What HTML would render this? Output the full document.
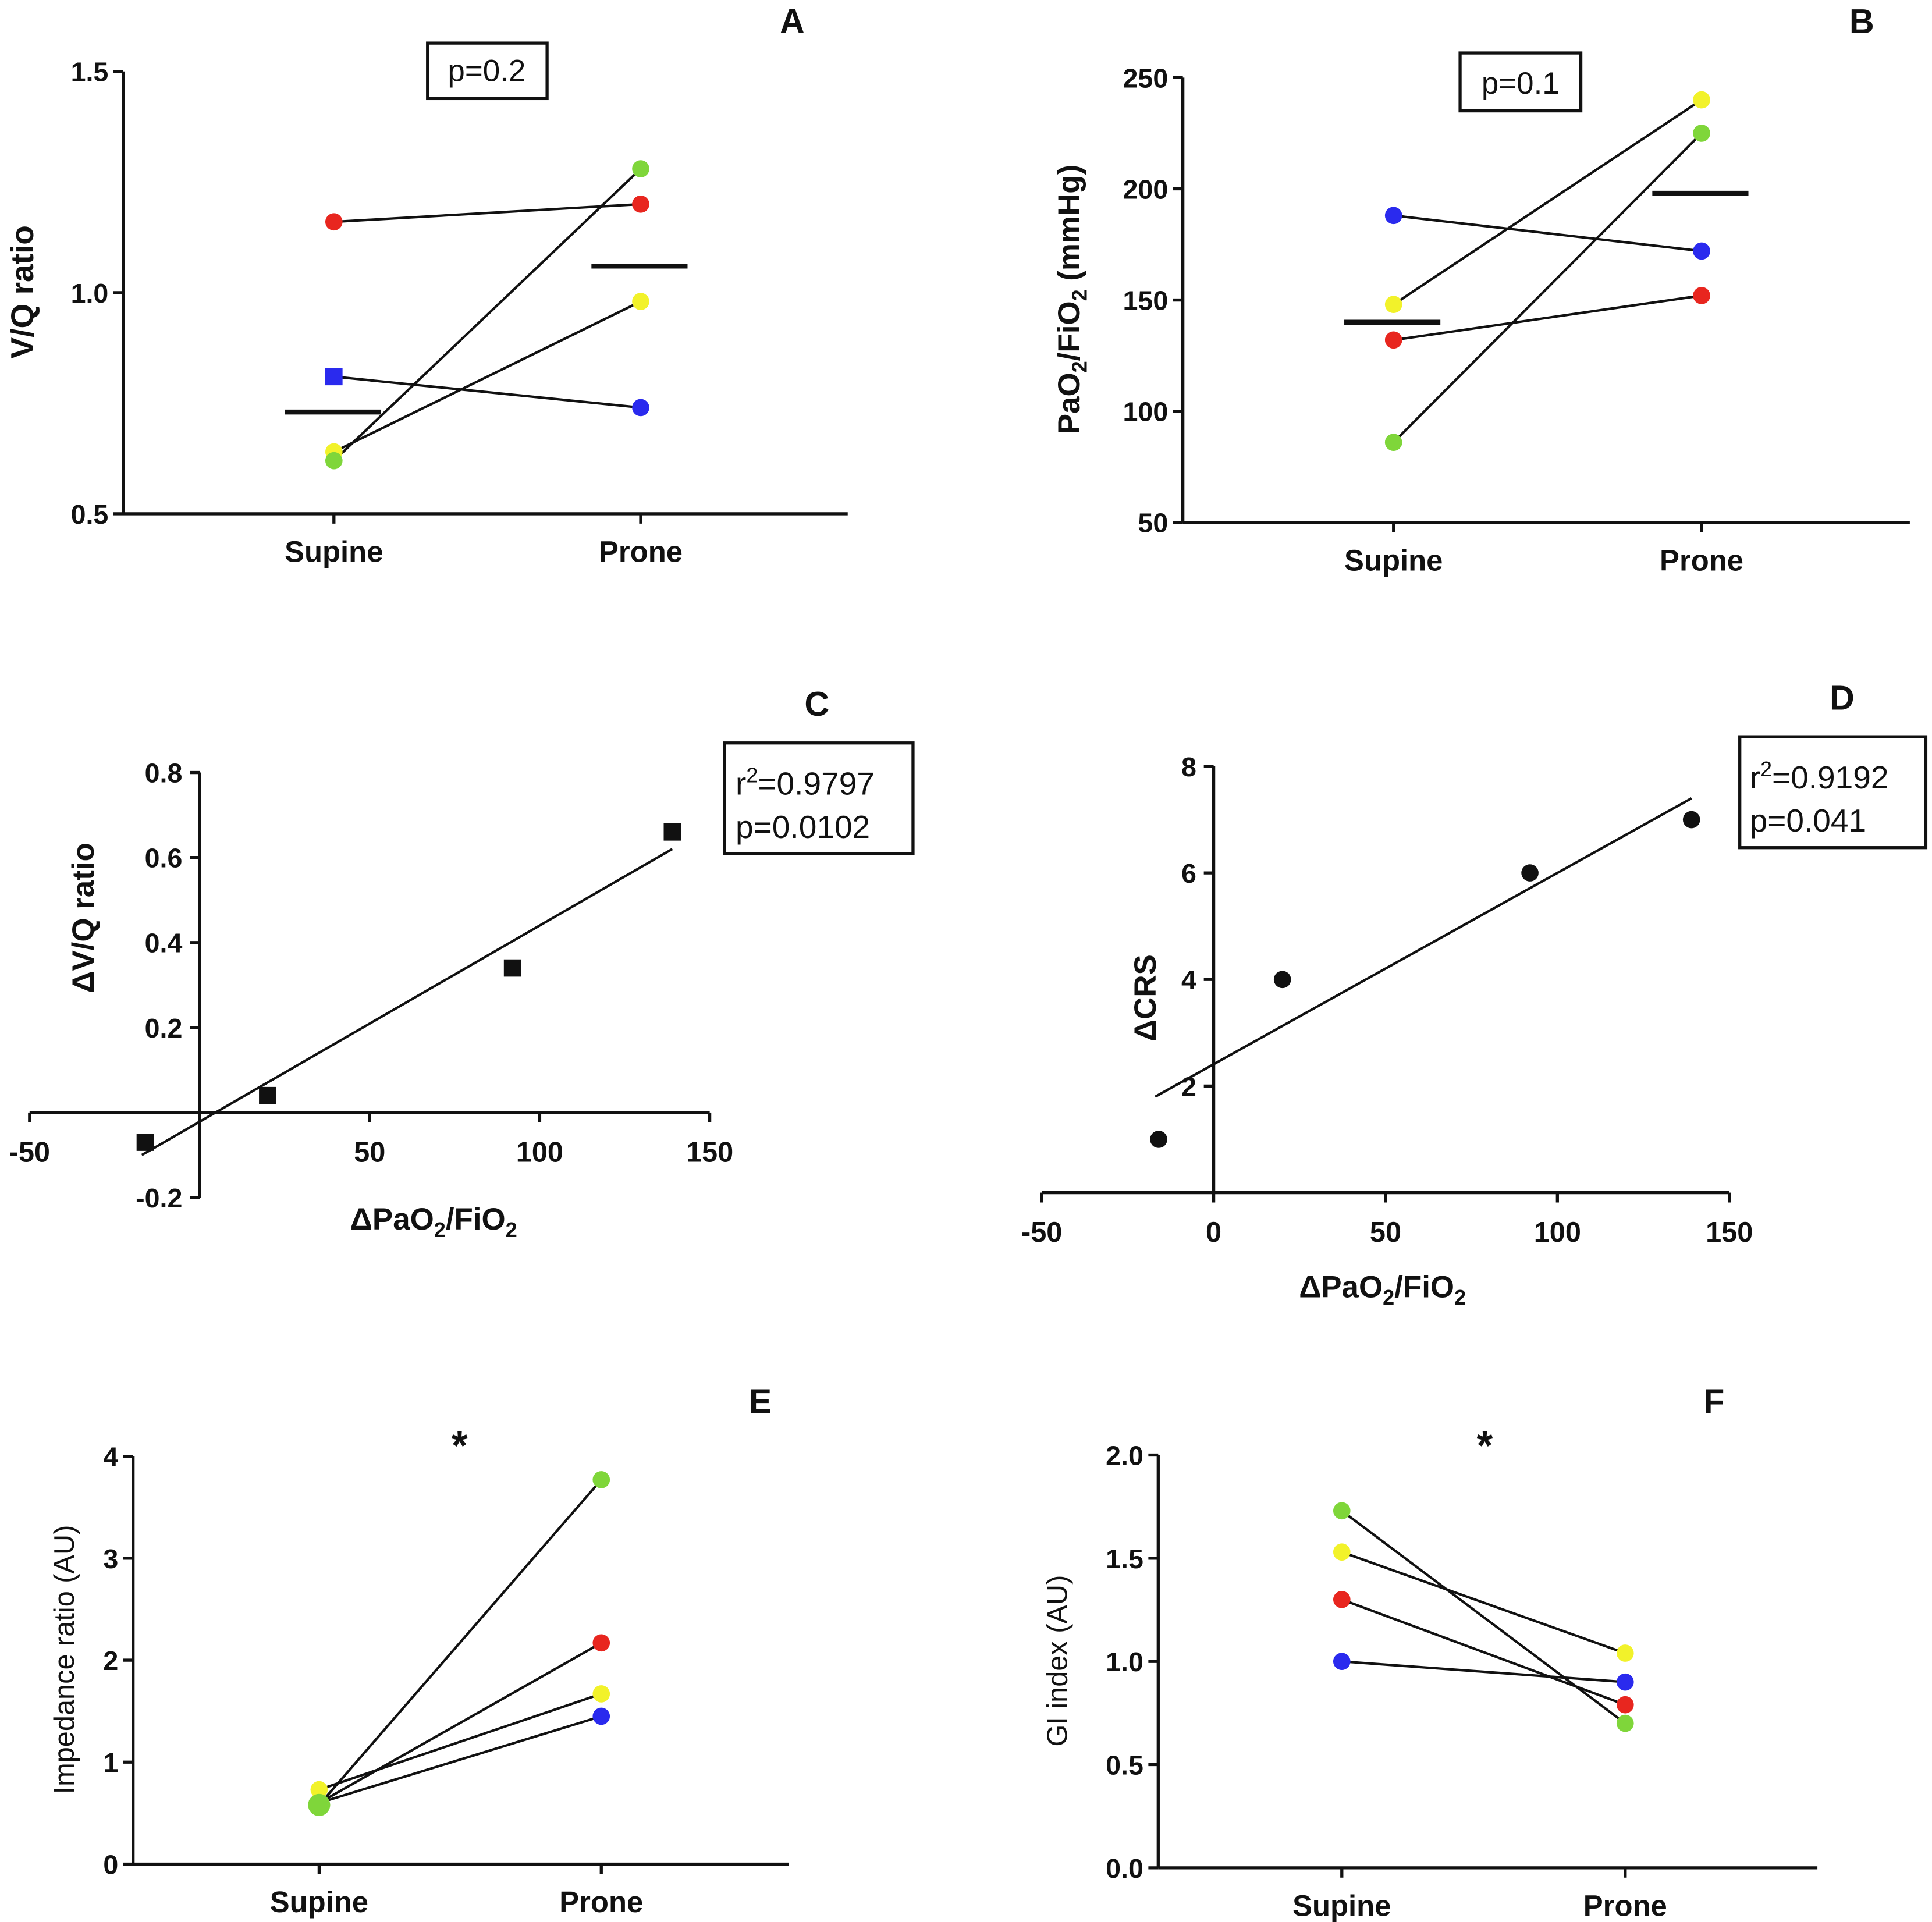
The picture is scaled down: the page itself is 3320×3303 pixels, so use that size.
<!DOCTYPE html>
<html><head><meta charset="utf-8"><style>
html,body{margin:0;padding:0;background:#fff}
svg{display:block}
text{font-family:"Liberation Sans",Arial,sans-serif;fill:#111}
</style></head><body>
<svg id="fig" width="3320" height="3303" viewBox="0 0 1568 1560" preserveAspectRatio="none" xmlns="http://www.w3.org/2000/svg"></svg>
<script>
// Panel A data
const aCats=["Supine","Prone"];
const aRed=[1.16,1.20], aBlue=[0.81,0.74], aYellow=[0.64,0.98], aGreen=[0.62,1.28];
const aMeans=[0.73,1.06];
const aTicks=[0.5,1.0,1.5];
// Panel B data
const bRed=[132,152], bBlue=[188,172], bYellow=[148,240], bGreen=[86,225];
const bMeans=[140,198];
const bTicks=[50,100,150,200,250];
// Panel C data
const cX=[-16,20,92,139], cY=[-0.07,0.04,0.34,0.66];
const cLineX=[-17,139], cLineY=[-0.1,0.62];
const cXTicks=[-50,50,100,150], cYTicks=[-0.2,0.2,0.4,0.6,0.8];
// Panel D data
const dX=[-16,20,92,139], dY=[1,4,6,7];
const dLineX=[-17,139], dLineY=[1.8,7.4];
const dXTicks=[-50,0,50,100,150], dYTicks=[2,4,6,8];
// Panel E data
const eRed=[0.6,2.17], eBlue=[0.6,1.45], eYellow=[0.73,1.67], eGreen=[0.58,3.77];
const eTicks=[0,1,2,3,4];
// Panel F data
const fRed=[1.3,0.79], fBlue=[1.0,0.9], fYellow=[1.53,1.04], fGreen=[1.73,0.7];
const fTicks=[0.0,0.5,1.0,1.5,2.0];

const C={red:"#e8261f",blue:"#2a2aee",yellow:"#f2f22a",green:"#7fd63a"};
const svg=document.getElementById('fig');
const NS="http://www.w3.org/2000/svg";
function mk(tag,attrs,parent,txt){const e=document.createElementNS(NS,tag);for(const k in attrs)e.setAttribute(k,attrs[k]);if(txt!==undefined)e.textContent=txt;(parent||svg).appendChild(e);return e;}
function lin(d0,d1,p0,p1){return v=>p0+(v-d0)*(p1-p0)/(d1-d0);}
function group(name){const g=mk('g',{});return g;}
function line(g,x1,y1,x2,y2,name,w){const l=mk('line',{x1,y1,x2,y2,stroke:'#111','stroke-width':w||2.5},g);return l;}
function txt(g,x,y,s,name,size,anchor,extra){const t=mk('text',Object.assign({x,y,'font-size':size||22,'text-anchor':anchor||'middle','font-weight':'bold'},extra||{}),g,s);return t;}
function dot(g,x,y,col,name,r){const c=mk('circle',{cx:x,cy:y,r:r||7,fill:col},g);return c;}
function box(g,x,y,w,h,lines,name){const b=mk('rect',{x,y,width:w,height:h,fill:'#fff',stroke:'#111','stroke-width':2.5},g);return b;}

function pairedPanel(o){
  const g=group(o.name);
  const ys=lin(o.y0,o.y1,o.py0,o.py1);
  line(g,o.ax,o.py1,o.ax,o.py0,'y-axis');
  line(g,o.ax,o.py0,o.ax2,o.py0,'x-axis');
  o.ticks.forEach(t=>{line(g,o.ax-8,ys(t),o.ax,ys(t),'y-tick');txt(g,o.ax-12,ys(t)+8,t.toFixed(o.dec),'y-tick-label',22,'end');});
  o.cx.forEach((x,i)=>{line(g,x,o.py0,x,o.py0+8,'x-tick');txt(g,x,o.py0+39,aCats[i],'x-tick-label',24);});
  const series=[['red',o.red],['blue',o.blue],['yellow',o.yellow],['green',o.green]];
  series.forEach(([c,v])=>line(g,o.cx[0],ys(v[0]),o.cx[1],ys(v[1]),'subject-line-'+c,2));
  series.forEach(([c,v])=>{v.forEach((val,i)=>{
    if(o.square&&c==='blue'&&i===0){const r=mk('rect',{x:o.cx[i]-7,y:ys(val)-7,width:14,height:14,fill:C[c]},g);}
    else dot(g,o.cx[i],ys(val),C[c],'point-'+c,(o.bigGreen&&c==='green'&&i===0)?9:7);
  });});
  if(o.means)o.means.forEach((m,i)=>line(g,o.cx[i]-40,ys(m),o.cx[i]+38,ys(m),'mean-bar',4));
  txt(g,o.lx,o.ly,o.ylabel,'y-axis-title',o.ls||25,'middle',{transform:`rotate(-90 ${o.lx} ${o.ly})`,'font-weight':o.lw||'bold'});
  return {g,ys};
}

// A
let A=pairedPanel({name:'panel-a',y0:0.5,y1:1.5,py0:417,py1:58,ax:100,ax2:688,cx:[271,520],ticks:aTicks,dec:1,red:aRed,blue:aBlue,yellow:aYellow,green:aGreen,means:aMeans,square:true,lx:27,ly:237,ylabel:'V/Q ratio',ls:26});
box(A.g,347,35,97,45,null,'p-value-box');txt(A.g,395,66,'p=0.2','p-value',25,'middle',{'font-weight':'normal'});
txt(A.g,643,27,'A','panel-label',28);
// B
let B=pairedPanel({name:'panel-b',y0:50,y1:250,py0:424,py1:63,ax:960,ax2:1550,cx:[1131,1381],ticks:bTicks,dec:0,red:bRed,blue:bBlue,yellow:bYellow,green:bGreen,means:bMeans,lx:875,ly:243,ylabel:''});
(function(){const lx=876,ly=243;const t=mk('text',{x:lx,y:ly,'font-size':25,'font-weight':'bold','text-anchor':'middle',transform:`rotate(-90 ${lx} ${ly})`},B.g);
t.innerHTML='PaO<tspan font-size="17" dy="6">2</tspan><tspan dy="-6">/FiO</tspan><tspan font-size="17" dy="6">2</tspan><tspan dy="-6"> (mmHg)</tspan>';})();
box(B.g,1185,43,98,47,null,'p-value-box');txt(B.g,1234,76,'p=0.1','p-value',25,'middle',{'font-weight':'normal'});
txt(B.g,1511,27,'B','panel-label',28);

function scatterPanel(o){
  const g=group(o.name);
  const xs=lin(o.x0,o.x1,o.px0,o.px1), ys=lin(o.y0,o.y1,o.py0,o.py1);
  line(g,xs(0),ys(o.yMin),xs(0),ys(o.yMax),'y-axis');
  line(g,xs(o.xMin),o.xAxisY,xs(o.xMax),o.xAxisY,'x-axis');
  o.yt.forEach(t=>{line(g,xs(0)-8,ys(t),xs(0),ys(t),'y-tick');txt(g,xs(0)-14,ys(t)+8,String(t),'y-tick-label',22,'end');});
  o.xt.forEach(t=>{line(g,xs(t),o.xAxisY,xs(t),o.xAxisY+8,'x-tick');txt(g,xs(t),o.xAxisY+40,String(t),'x-tick-label',23);});
  line(g,xs(o.lx[0]),ys(o.ly[0]),xs(o.lx[1]),ys(o.ly[1]),'regression-line',2);
  o.X.forEach((x,i)=>{
    if(o.square){const r=mk('rect',{x:xs(x)-7,y:ys(o.Y[i])-7,width:14,height:14,fill:'#111'},g);}
    else dot(g,xs(x),ys(o.Y[i]),'#111','data-point',7);
  });
  return {g,xs,ys};
}
// C
let Cp=scatterPanel({name:'panel-c',x0:0,x1:100,px0:162,px1:438,y0:0,y1:0.8,py0:903,py1:627,yMin:-0.2,yMax:0.8,xMin:-50,xMax:150,xAxisY:903,xt:cXTicks,yt:cYTicks,X:cX,Y:cY,lx:cLineX,ly:cLineY,square:true});
box(Cp.g,588,603,153,90,null,'stats-box');
txt(Cp.g,597,645,'','stats-r2',26,'start',{'font-weight':'normal'}).innerHTML='r<tspan font-size="17" dy="-10">2</tspan><tspan dy="10">=0.9797</tspan>';
txt(Cp.g,597,680,'p=0.0102','stats-p',26,'start',{'font-weight':'normal'});
txt(Cp.g,663,581,'C','panel-label',28);
txt(Cp.g,352,998,'','x-axis-title',25).innerHTML='ΔPaO<tspan font-size="17" dy="6">2</tspan><tspan dy="-6">/FiO</tspan><tspan font-size="17" dy="6">2</tspan>';
txt(Cp.g,76,745,'ΔV/Q ratio','y-axis-title',25,'middle',{transform:'rotate(-90 76 745)'});
// D
let Dp=scatterPanel({name:'panel-d',x0:0,x1:100,px0:985,px1:1264,y0:0,y1:8,py0:968,py1:622,yMin:0,yMax:8,xMin:-50,xMax:150,xAxisY:968,xt:dXTicks,yt:dYTicks,X:dX,Y:dY,lx:dLineX,ly:dLineY});
box(Dp.g,1412,598,151,90,null,'stats-box');
txt(Dp.g,1420,640,'','stats-r2',26,'start',{'font-weight':'normal'}).innerHTML='r<tspan font-size="17" dy="-10">2</tspan><tspan dy="10">=0.9192</tspan>';
txt(Dp.g,1420,675,'p=0.041','stats-p',26,'start',{'font-weight':'normal'});
txt(Dp.g,1495,576,'D','panel-label',28);
txt(Dp.g,1122,1053,'','x-axis-title',25).innerHTML='ΔPaO<tspan font-size="17" dy="6">2</tspan><tspan dy="-6">/FiO</tspan><tspan font-size="17" dy="6">2</tspan>';
txt(Dp.g,938,810,'ΔCRS','y-axis-title',25,'middle',{transform:'rotate(-90 938 810)'});

// E
let E=pairedPanel({name:'panel-e',y0:0,y1:4,py0:1513,py1:1182,ax:108,ax2:640,cx:[259,488],ticks:eTicks,dec:0,red:eRed,blue:eBlue,yellow:eYellow,green:eGreen,bigGreen:true,lx:60,ly:1347,ylabel:'Impedance ratio (AU)',ls:23,lw:'normal'});
txt(E.g,373,1185,'*','significance-star',34);
txt(E.g,617,1147,'E','panel-label',28);
// F
let F=pairedPanel({name:'panel-f',y0:0,y1:2,py0:1516,py1:1181,ax:940,ax2:1475,cx:[1089,1319],ticks:fTicks,dec:1,red:fRed,blue:fBlue,yellow:fYellow,green:fGreen,lx:866,ly:1348,ylabel:'GI index (AU)',ls:23,lw:'normal'});
txt(F.g,1205,1185,'*','significance-star',34);
txt(F.g,1391,1147,'F','panel-label',28);
</script>
</body></html>
